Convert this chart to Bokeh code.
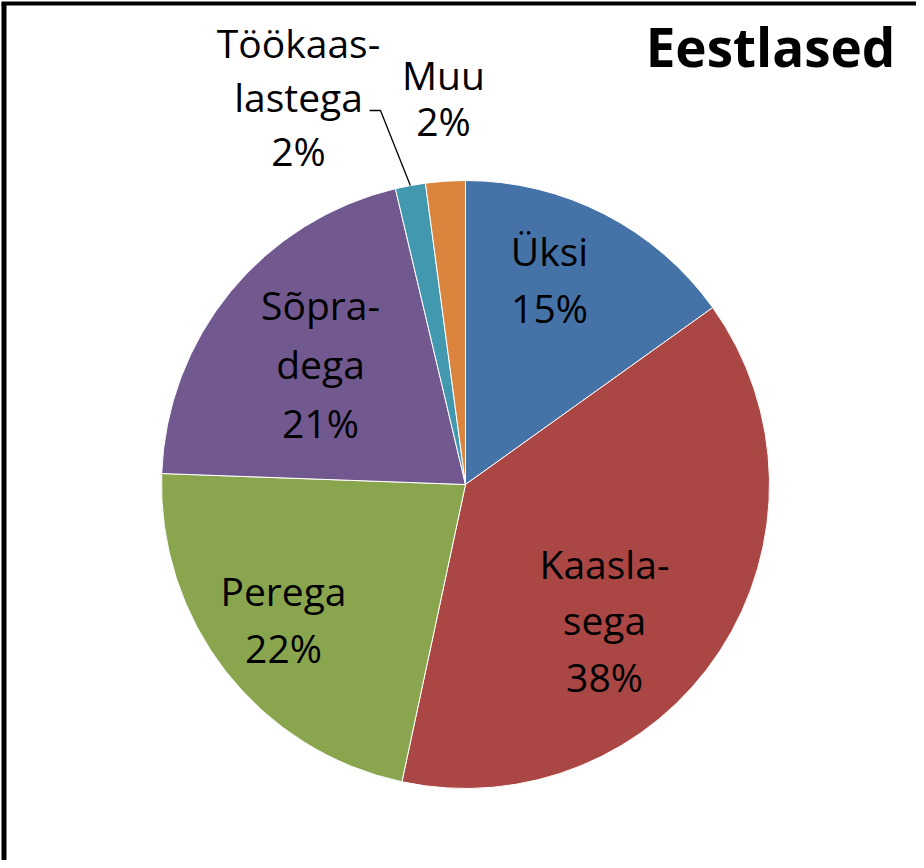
import math
from bokeh.plotting import figure
from bokeh.models import Range1d
from bokeh.core.properties import value
from bokeh.embed import file_html
from bokeh.resources import INLINE

# ---- data ----
title = "Eestlased"
categories = ["Üksi", "Kaaslasega", "Perega", "Sõpradega", "Töökaaslastega", "Muu"]
label_lines = [["Üksi"], ["Kaasla-", "sega"], ["Perega"], ["Sõpra-", "dega"],
               ["Töökaas-", "lastega"], ["Muu"]]
shares = [15.1, 38.2, 22.2, 20.7, 1.6, 2.1]
colors = ["#4572A7", "#AA4643", "#89A54E", "#71588F", "#4198AF", "#DB843D"]

# ---- layout (page pixel coordinates; y measured from bottom of window) ----
W, H = 916, 860
PAGE_H = 868
def Y(py):
    return PAGE_H - py

LABEL_PX = 39
TITLE_PX = 53
BASE_FIX = 0.385  # renderer places the alphabetic baseline ~0.385em low

cx, cy, r = 473, Y(492), 304
label_pos = [(557, 273, 57), (612, 586, 56.5), (291, 613, 57), (328, 327, 59),
             (306, 65, 54), (451, 97, 46)]

p = figure(width=W, height=H, output_backend="svg", toolbar_location=None,
           x_range=Range1d(8, 8 + W), y_range=Range1d(PAGE_H - 8 - H, PAGE_H - 8),
           x_axis_type=None, y_axis_type=None, min_border=0,
           background_fill_color="white", border_fill_color="white")
p.grid.visible = False
p.outline_line_color = None

total = sum(shares)
starts, ends, mids = [], [], []
cum = 0.0
for v in shares:
    a0 = math.pi / 2 - 2 * math.pi * cum / total
    cum += v
    a1 = math.pi / 2 - 2 * math.pi * cum / total
    starts.append(a0)
    ends.append(a1)
    mids.append((a0 + a1) / 2)

p.wedge(x=[cx] * len(shares), y=[cy] * len(shares), radius=r,
        start_angle=starts, end_angle=ends, direction="clock",
        fill_color=colors, line_color="white", line_width=1)

xs, ys, texts = [], [], []
for lines, v, (lx, ly, ls) in zip(label_lines, shares, label_pos):
    all_lines = lines + [f"{round(v)}%"]
    for i, t in enumerate(all_lines):
        xs.append(lx)
        ys.append(Y(ly + i * ls) + BASE_FIX * LABEL_PX)
        texts.append(t)
p.text(x=xs, y=ys, text=texts, text_align="center", text_baseline="alphabetic",
       text_font=value("Open Sans"), text_font_size=f"{LABEL_PX}px", text_color="black")

k = categories.index("Töökaaslastega")
ex = cx + r * math.cos(mids[k])
ey = cy + r * math.sin(mids[k])
p.line(x=[377, 388, ex], y=[Y(118), Y(118), ey], line_color="black", line_width=1.3)

p.text(x=[778], y=[Y(74) + BASE_FIX * TITLE_PX], text=[title], text_align="center",
       text_baseline="alphabetic", text_font=value("Open Sans"), text_font_style="bold",
       text_font_size=f"{TITLE_PX}px", text_color="black")

p.line(x=[11.5, 11.5], y=[Y(11), Y(PAGE_H + 20)], line_color="black", line_width=5)
p.line(x=[9, 8 + W + 20], y=[Y(11), Y(11)], line_color="black", line_width=4)

open("out.html", "w").write(file_html(p, INLINE))
